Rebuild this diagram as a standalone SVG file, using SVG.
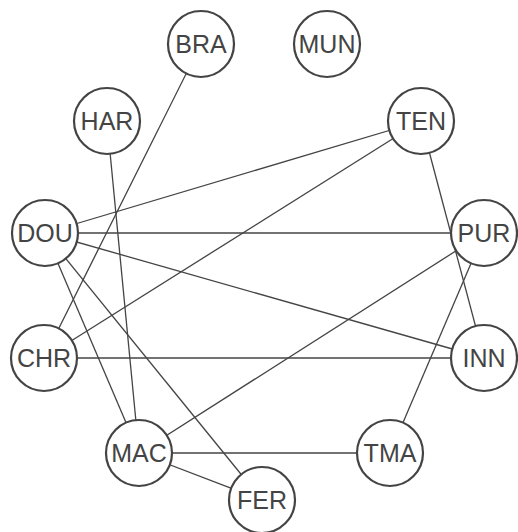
<svg xmlns="http://www.w3.org/2000/svg" width="518" height="532" viewBox="0 0 518 532">
<style>
.edge{stroke:#444;stroke-width:1.3;fill:none}
.node circle{fill:#fff;stroke:#444;stroke-width:2.2}
.node text{font-family:"Liberation Sans",Arial,sans-serif;font-size:25px;fill:#444;text-anchor:middle;dominant-baseline:central}
</style>
<rect width="518" height="532" fill="#fff"/>
<g id="edges">
<line class="edge" x1="201" y1="44" x2="44" y2="358"/>
<line class="edge" x1="107" y1="121" x2="139" y2="453"/>
<line class="edge" x1="421" y1="121" x2="45" y2="233"/>
<line class="edge" x1="421" y1="121" x2="44" y2="358"/>
<line class="edge" x1="421" y1="121" x2="484" y2="358"/>
<line class="edge" x1="45" y1="233" x2="484" y2="233"/>
<line class="edge" x1="45" y1="233" x2="484" y2="358"/>
<line class="edge" x1="45" y1="233" x2="139" y2="453"/>
<line class="edge" x1="45" y1="233" x2="262" y2="500"/>
<line class="edge" x1="484" y1="233" x2="139" y2="453"/>
<line class="edge" x1="484" y1="233" x2="390" y2="453"/>
<line class="edge" x1="44" y1="358" x2="484" y2="358"/>
<line class="edge" x1="139" y1="453" x2="390" y2="453"/>
<line class="edge" x1="139" y1="453" x2="262" y2="500"/>
</g>
<g id="BRA" class="node"><circle cx="201" cy="44" r="33"/><text x="201" y="44">BRA</text></g>
<g id="MUN" class="node"><circle cx="327" cy="44" r="33"/><text x="327" y="44">MUN</text></g>
<g id="HAR" class="node"><circle cx="107" cy="121" r="33"/><text x="107" y="121">HAR</text></g>
<g id="TEN" class="node"><circle cx="421" cy="121" r="33"/><text x="421" y="121">TEN</text></g>
<g id="DOU" class="node"><circle cx="45" cy="233" r="33"/><text x="45" y="233">DOU</text></g>
<g id="PUR" class="node"><circle cx="484" cy="233" r="33"/><text x="484" y="233">PUR</text></g>
<g id="CHR" class="node"><circle cx="44" cy="358" r="33"/><text x="44" y="358">CHR</text></g>
<g id="INN" class="node"><circle cx="484" cy="358" r="33"/><text x="484" y="358">INN</text></g>
<g id="MAC" class="node"><circle cx="139" cy="453" r="33"/><text x="139" y="453">MAC</text></g>
<g id="TMA" class="node"><circle cx="390" cy="453" r="33"/><text x="390" y="453">TMA</text></g>
<g id="FER" class="node"><circle cx="262" cy="500" r="33"/><text x="262" y="500">FER</text></g>
</svg>
